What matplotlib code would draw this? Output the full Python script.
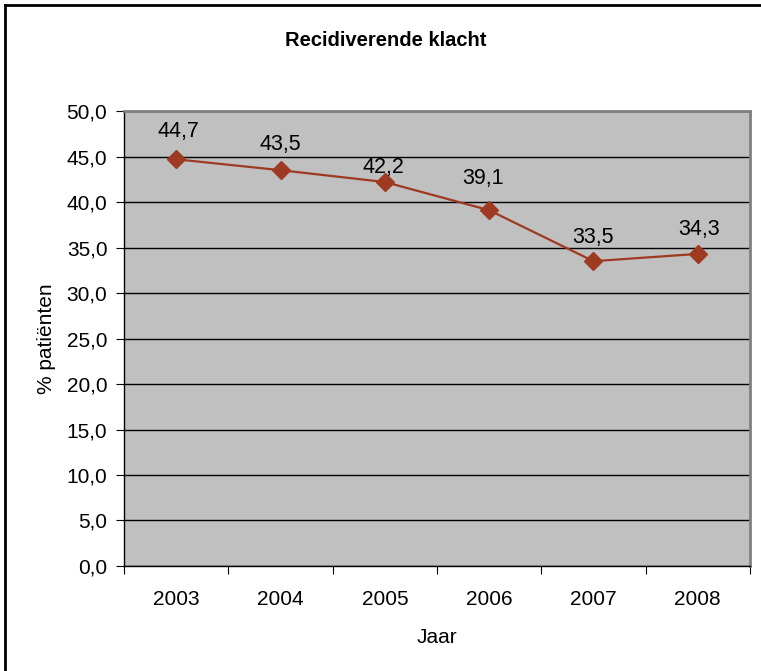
import numpy as np
import matplotlib.pyplot as plt
from matplotlib.lines import Line2D

plt.rcParams['font.family'] = ['Liberation Sans', 'DejaVu Sans']

years = ["2003", "2004", "2005", "2006", "2007", "2008"]
pct = [44.7, 43.5, 42.2, 39.1, 33.5, 34.3]
yticks = [0, 5, 10, 15, 20, 25, 30, 35, 40, 45, 50]

# label placement relative to each marker, in pixels (dx, dy)
label_shift = [(2, 28), (0, 26), (-1, 15), (-6, 32), (-1, 24), (1, 24)]

fig = plt.figure(figsize=(7.61, 6.71), dpi=100)
ax = fig.add_axes([0.163, 0.1565, 0.8225, 0.678])
ax.set_facecolor("#C0C0C0")

x = np.arange(len(years))
ax.plot(x, pct, color="#9E3A22", linewidth=1.6, marker="D", markersize=9,
        markerfacecolor="#9E3A22", markeredgecolor="#9E3A22", zorder=3)

for xi, v, (dx, dy) in zip(x, pct, label_shift):
    ax.annotate(f"{v:.1f}".replace(".", ","), (xi, v), xytext=(dx * 0.72, dy * 0.72),
                textcoords="offset points", ha="center", va="center", fontsize=15.5)

ax.set_xlim(-0.5, len(years) - 0.5)
ax.set_ylim(0, 50)
ax.set_yticks(yticks)
ax.set_yticklabels([f"{t:.1f}".replace(".", ",") for t in yticks], fontsize=15)
ax.yaxis.grid(True, color="black", linewidth=1)
ax.set_axisbelow(True)

# category labels centred, ticks on the category boundaries
ax.set_xticks(np.arange(-0.5, len(years)), minor=False)
ax.set_xticklabels([])
ax.set_xticks(x, minor=True)
ax.set_xticklabels(years, minor=True, fontsize=15)
ax.tick_params(axis="x", which="minor", length=0, pad=17)
ax.tick_params(axis="x", which="major", length=6, direction="out")
ax.tick_params(axis="y", length=6, direction="out", pad=6)

for side in ["top", "right"]:
    ax.spines[side].set_color("#808080")
    ax.spines[side].set_linewidth(2)
for side in ["left", "bottom"]:
    ax.spines[side].set_color("black")
    ax.spines[side].set_linewidth(1)

ax.set_xlabel("Jaar", fontsize=15, labelpad=14)
ax.set_ylabel("% patiënten", fontsize=15, labelpad=8)

fig.text(0.507, 0.94, "Recidiverende klacht", ha="center", va="center",
         fontsize=14.5, fontweight="bold")

# outer frame (left and top edge)
fig.add_artist(Line2D([0.0065, 0.0065], [0, 0.9925], color="black", linewidth=2,
                      transform=fig.transFigure))
fig.add_artist(Line2D([0.0065, 1.0], [0.9925, 0.9925], color="black", linewidth=2,
                      transform=fig.transFigure))

fig.savefig("out.png", dpi=100)
